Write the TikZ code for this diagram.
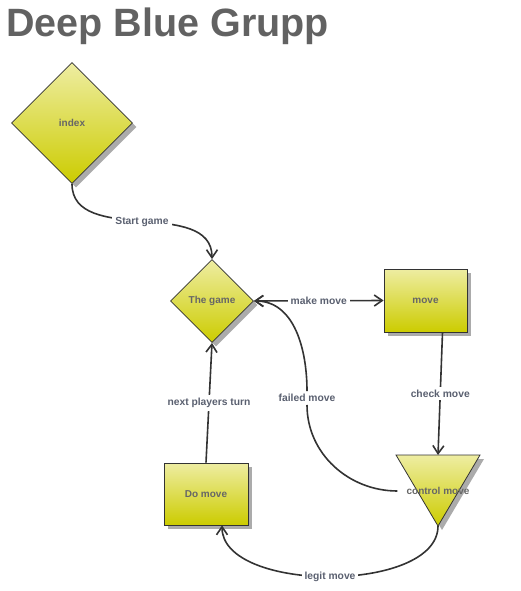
\documentclass[tikz,border=0pt]{standalone}
\usepackage{fontspec}
\setmainfont{Liberation Sans}
\usetikzlibrary{shapes.geometric,shadows,arrows.meta}

\definecolor{titlegray}{HTML}{626262}
\definecolor{textgray}{HTML}{666666}
\definecolor{labelgray}{HTML}{5A6070}
\definecolor{linegray}{HTML}{333333}
\definecolor{boxtop}{HTML}{EEEDA2}
\definecolor{boxbottom}{HTML}{CCCC00}
\definecolor{shadowgray}{HTML}{ABABAB}

\tikzset{
    >={Straight Barb[length=8pt,width=11pt]},
    shapefill/.style={draw=linegray, line width=0.8pt, top color=boxtop, bottom color=boxbottom,
        drop shadow={shadow xshift=4pt, shadow yshift=-4pt, fill=shadowgray, opacity=1}},
    shapetext/.style={text=textgray, font=\fontsize{10}{12}\selectfont\bfseries},
    rhomb/.style={shapefill, shapetext, diamond, aspect=1, inner sep=0pt},
    rect/.style={shapefill, shapetext, rectangle, inner sep=0pt},
    lbl/.style={fill=white, text=labelgray, font=\fontsize{10.3}{12}\selectfont\bfseries, inner sep=3pt},
    flow/.style={draw=linegray, line width=1.6pt, ->},
}

\begin{document}
\begin{tikzpicture}[x=1pt,y=1pt]
    \useasboundingbox (0,0) rectangle (520,-591);

    % Title
    \node[anchor=base west, inner sep=0pt, text=titlegray, font=\fontsize{39.5}{44}\selectfont\bfseries] (title) at (6,-37) {Deep Blue Grupp};

    % Diamonds
    \node[rhomb, minimum size=121pt] (index) at (72,-123) {index};
    \node[rhomb, minimum size=83pt] (game) at (212,-301) {The game};

    % Boxes
    \node[rect, minimum width=83pt, minimum height=63pt] (move) at (425.5,-300.5) {move};
    \node[rect, minimum width=84pt, minimum height=62pt] (domove) at (206,-494) {Do move};

    % Control move
    \path[shapefill] (396,-455) coordinate (ctrltl) -- (480,-455) coordinate (ctrltr)
        -- (438,-526) coordinate (ctrlbot) -- cycle;
    \coordinate (ctrltop) at (438,-455);
    \node[shapetext, inner xsep=9pt] (ctrl) at (438,-491) {control move};

    % Connectors
    \draw[flow] (index.south) to[out=-90,in=90] node[lbl] {Start game} (game.north);
    \draw[flow, <->] (game.east) -- node[lbl] {make move} (move.west);
    \draw[flow] ([xshift=17pt]move.south) -- node[lbl] {check move} (ctrltop);
    \node[lbl] (failed) at (307,-398) {failed move};
    \draw[flow] (ctrl.west) to[out=180,in=-90] (failed) to[out=90,in=0] (game.east);
    \draw[flow] (ctrlbot) to[out=-90,in=-90,looseness=0.8] node[lbl] {legit move} ([xshift=16pt]domove.south);
    \draw[flow] (domove.north) -- node[lbl] {next players turn} (game.south);
\end{tikzpicture}
\end{document}
